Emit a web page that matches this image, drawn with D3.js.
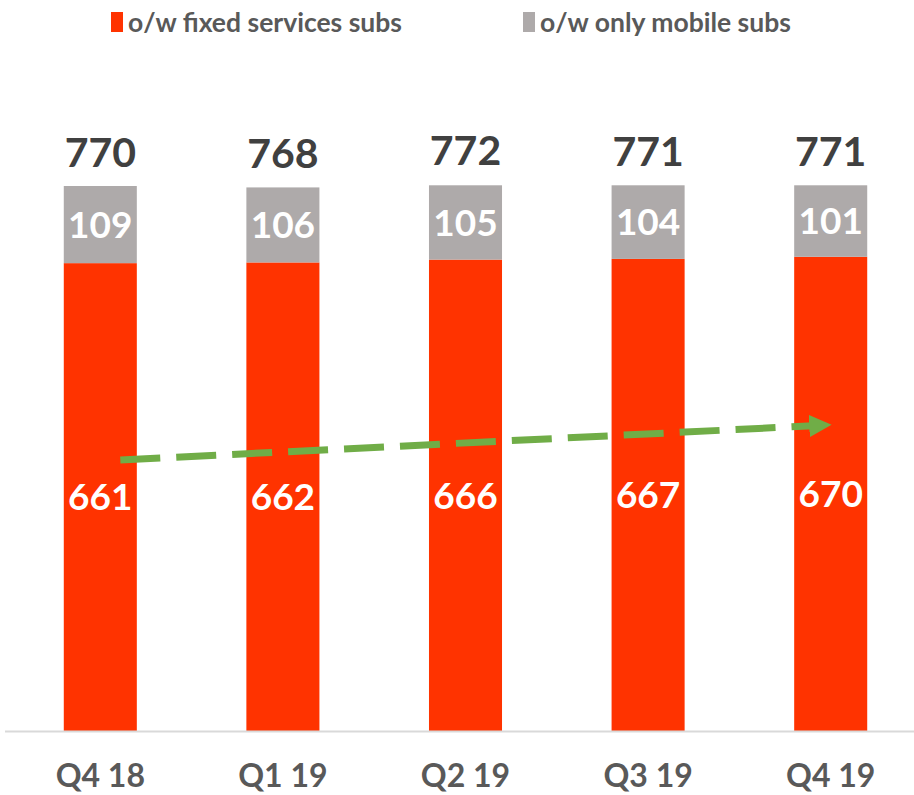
<!DOCTYPE html>
<html>
<head>
<meta charset="utf-8">
<script src="https://cdn.jsdelivr.net/npm/d3@7"></script>
<style>
  body { margin: 0; background: #fff; }
  text { font-family: Lato, "Open Sans", sans-serif; font-weight: bold; }
</style>
</head>
<body>
<svg id="chart"></svg>
<script>
var width = 914, height = 795;
var margin = ({top: 50, right: 0, bottom: 64, left: 5});

// data
var quarters = ["Q4 18", "Q1 19", "Q2 19", "Q3 19", "Q4 19"];
var fixedSubs = [661, 662, 666, 667, 670];
var mobileOnlySubs = [109, 106, 105, 104, 101];
var totals = [770, 768, 772, 771, 771];
var seriesNames = ["o/w fixed services subs", "o/w only mobile subs"];
// trend arrow: start/end (quarter, value)
var trendStart = ["Q4 18", 383];
var trendEnd = ["Q4 19", 432];

var colors = ["#ff3300", "#aeaaaa"];

var svg = d3.select('#chart')
	.attr('width', width)
	.attr('height', height);

var x = d3.scaleBand()
	.domain(quarters)
	.range([9, 922])
	.paddingInner(0.6)
	.paddingOuter(0.3);

var y = d3.scaleLinear()
	.domain([0, 770])
	.range([731, 186]);

// stacked bars
var bars = svg.append('g')
	.selectAll('g')
	.data(quarters)
	.join('g');

bars.append('rect')
	.attr('x', d => x(d))
	.attr('width', x.bandwidth())
	.attr('y', (d, i) => y(fixedSubs[i]))
	.attr('height', (d, i) => y(0) - y(fixedSubs[i]))
	.attr('fill', colors[0]);

bars.append('rect')
	.attr('x', d => x(d))
	.attr('width', x.bandwidth())
	.attr('y', (d, i) => y(fixedSubs[i] + mobileOnlySubs[i]))
	.attr('height', (d, i) => y(fixedSubs[i]) - y(fixedSubs[i] + mobileOnlySubs[i]))
	.attr('fill', colors[1]);

// segment labels
bars.append('text')
	.attr('x', d => x(d) + x.bandwidth() / 2)
	.attr('y', (d, i) => (y(0) + y(fixedSubs[i])) / 2)
	.attr('dy', '0.36em')
	.attr('text-anchor', 'middle')
	.attr('fill', 'white')
	.attr('font-size', 37)
	.text((d, i) => fixedSubs[i]);

bars.append('text')
	.attr('x', d => x(d) + x.bandwidth() / 2)
	.attr('y', (d, i) => (y(fixedSubs[i]) + y(fixedSubs[i] + mobileOnlySubs[i])) / 2)
	.attr('dy', '0.36em')
	.attr('text-anchor', 'middle')
	.attr('fill', 'white')
	.attr('font-size', 37)
	.text((d, i) => mobileOnlySubs[i]);

// totals
bars.append('text')
	.attr('x', d => x(d) + x.bandwidth() / 2)
	.attr('y', (d, i) => y(totals[i]) - 34)
	.attr('dy', '0.36em')
	.attr('text-anchor', 'middle')
	.attr('fill', '#404040')
	.attr('font-size', 41)
	.text((d, i) => totals[i]);

// x axis
var xAxis = g => g
	.attr('transform', 'translate(0,' + y(0) + ')')
	.call(d3.axisBottom(x).tickSize(0).tickPadding(33))
	.call(g => g.select('.domain')
		.attr('d', 'M' + margin.left + ',0.5H' + width)
		.attr('stroke', '#d9d9d9')
		.attr('stroke-width', 2))
	.call(g => g.selectAll('.tick text')
		.attr('font-family', 'Lato, "Open Sans", sans-serif')
		.attr('font-weight', 'bold')
		.attr('font-size', 32)
		.attr('fill', '#595959'));

svg.append('g').call(xAxis);

// trend arrow
svg.append('defs').append('marker')
	.attr('id', 'arrowhead')
	.attr('viewBox', '0 0 10 10')
	.attr('refX', 2)
	.attr('refY', 5)
	.attr('markerWidth', 3.2)
	.attr('markerHeight', 3.2)
	.attr('markerUnits', 'strokeWidth')
	.attr('orient', 'auto')
	.append('path')
	.attr('d', 'M0,0L10,5L0,10Z')
	.attr('fill', '#70ad47');

svg.append('line')
	.attr('x1', x(trendStart[0]) + x.bandwidth() / 2 + 20)
	.attr('y1', y(trendStart[1]))
	.attr('x2', x(trendEnd[0]) + x.bandwidth() / 2 - 17)
	.attr('y2', y(trendEnd[1]) + 0.5)
	.attr('stroke', '#70ad47')
	.attr('stroke-width', 7)
	.attr('stroke-dasharray', '40,16')
	.attr('marker-end', 'url(#arrowhead)');

// legend
var legendX = [111, 523];
var legend = svg.append('g')
	.selectAll('g')
	.data(seriesNames)
	.join('g')
	.attr('transform', (d, i) => 'translate(' + legendX[i] + ',22)');

legend.append('rect')
	.attr('x', 0)
	.attr('y', -10)
	.attr('width', 12)
	.attr('height', 20)
	.attr('fill', (d, i) => colors[i]);

legend.append('text')
	.attr('x', 17)
	.attr('dy', '0.36em')
	.attr('font-size', 26.5)
	.attr('fill', '#595959')
	.text(d => d);
</script>
</body>
</html>
